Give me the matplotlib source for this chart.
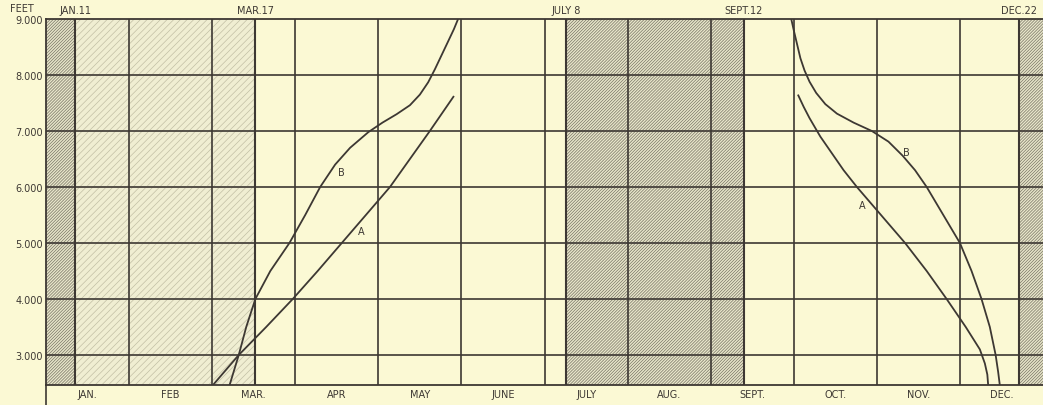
import matplotlib
matplotlib.use("Agg")
import matplotlib.pyplot as plt
from matplotlib.lines import Line2D

# x is measured in months from Jan 1 (a day d of a month counts as d / days in month)
month_names = ["JAN.", "FEB", "MAR.", "APR", "MAY", "JUNE",
               "JULY", "AUG.", "SEPT.", "OCT.", "NOV.", "DEC."]
month_days = [31, 28, 31, 30, 31, 30, 31, 31, 30, 31, 30, 31]

# marked dates: (label, month index, day)
key_dates = [("JAN.11", 0, 11), ("MAR.17", 2, 16), ("JULY 8", 6, 8),
             ("SEPT.12", 8, 12), ("DEC.22", 11, 22)]

feet_ticks = [3000, 4000, 5000, 6000, 7000, 8000, 9000]
feet_labels = ["3.000", "4.000", "5.000", "6.000", "7.000", "8.000", "9.000"]

# spring curves
spring_b_x = [2.21, 2.32, 2.41, 2.52, 2.70, 2.93, 3.12, 3.30, 3.48, 3.66, 3.88, 4.05, 4.22,
              4.38, 4.50, 4.60, 4.68, 4.76, 4.84, 4.91, 4.96]
spring_b_y = [2464, 3000, 3500, 4000, 4500, 5000, 5500, 6000, 6400, 6700, 6980, 7150, 7300,
              7460, 7650, 7870, 8100, 8350, 8600, 8820, 9000]
spring_a_x = [2.01, 2.32, 2.65, 2.97, 3.27, 3.56, 3.85, 4.14, 4.38, 4.62, 4.91]
spring_a_y = [2464, 3000, 3500, 4000, 4500, 5000, 5500, 6000, 6500, 7000, 7625]

# autumn curves
fall_b_x = [8.97, 9.00, 9.04, 9.08, 9.13, 9.19, 9.27, 9.38, 9.52, 9.72, 9.94, 10.14,
            10.31, 10.46, 10.60, 10.80, 11.00, 11.14, 11.26, 11.36, 11.43, 11.46, 11.48]
fall_b_y = [9000, 8800, 8550, 8300, 8080, 7880, 7680, 7480, 7310, 7150, 7000, 6810,
            6560, 6300, 6000, 5500, 5000, 4500, 4000, 3500, 3000, 2700, 2464]
fall_a_x = [9.05, 9.12, 9.19, 9.32, 9.46, 9.60, 9.76, 10.05, 10.34, 10.60, 10.84,
            11.07, 11.24, 11.30, 11.33, 11.34]
fall_a_y = [7650, 7430, 7230, 6900, 6600, 6300, 6000, 5500, 5000, 4500, 4000,
            3500, 3100, 2850, 2650, 2464]

# curve labels: (text, x, y)
curve_labels = [("B", 3.56, 6270), ("A", 3.80, 5210), ("B", 10.36, 6620), ("A", 9.83, 5680)]

BG = "#fbf9d4"
INK = "#3d3833"

plt.rcParams["font.family"] = "DejaVu Sans"
plt.rcParams["hatch.linewidth"] = 0.5

fig = plt.figure(figsize=(10.43, 4.06), dpi=100, facecolor=BG)
ax = fig.add_axes([46 / 1043, 20 / 406, 997 / 1043, 366 / 406])
ax.set_facecolor(BG)
ax.set_xlim(0, 12)
ax.set_ylim(2464, 9000)

pos = {lab: m + d / month_days[m] for lab, m, d in key_dates}

############################################################
# shaded seasons
############################################################
heavy = dict(facecolor="#e8e6ca", edgecolor="#777364", hatch="/" * 11, linewidth=0, zorder=1)
ax.axvspan(0, pos["JAN.11"], **heavy)
ax.axvspan(pos["JULY 8"], pos["SEPT.12"], **heavy)
ax.axvspan(pos["DEC.22"], 12, **heavy)
ax.axvspan(pos["JAN.11"], pos["MAR.17"], facecolor="#f0eed2", edgecolor="#c2bfa5",
           hatch="/" * 5, linewidth=0, zorder=1)

############################################################
# grid
############################################################
for m in range(1, 12):
    ax.axvline(m, color=INK, lw=1.2, zorder=2)
for lab, x in pos.items():
    ax.axvline(x, color=INK, lw=1.5, zorder=2)
for f in feet_ticks[:-1]:
    ax.axhline(f, color=INK, lw=1.2, zorder=2)

############################################################
# curves
############################################################
for xs, ys in [(spring_b_x, spring_b_y), (spring_a_x, spring_a_y),
               (fall_b_x, fall_b_y), (fall_a_x, fall_a_y)]:
    ax.plot(xs, ys, color=INK, lw=1.3, zorder=3, solid_capstyle="butt")

for t, x, y in curve_labels:
    ax.text(x, y, t, fontsize=7, color=INK, ha="center", va="center", zorder=4)

############################################################
# axes and labels
############################################################
ax.set_xticks([m + 0.5 for m in range(12)])
ax.set_xticklabels(month_names, fontsize=7, color=INK)
ax.set_yticks(feet_ticks)
ax.set_yticklabels(feet_labels, fontsize=7, color=INK)
ax.tick_params(axis="both", length=0)
ax.tick_params(axis="x", pad=3)
ax.tick_params(axis="y", pad=2)

for s in ["left", "top", "bottom"]:
    ax.spines[s].set_color(INK)
    ax.spines[s].set_linewidth(1.3)
ax.spines["right"].set_visible(False)

for lab, x in pos.items():
    ax.text(x, 1.025, lab, transform=ax.get_xaxis_transform(), fontsize=7,
            color=INK, ha="center", va="center")

fig.text(22 / 1043, 1 - 9 / 406, "FEET", fontsize=7, color=INK, ha="center", va="center")
fig.add_artist(Line2D([46 / 1043, 46 / 1043], [0, 20 / 406], color=INK, lw=1.2))

fig.savefig("out.png", dpi=100, facecolor=BG)
